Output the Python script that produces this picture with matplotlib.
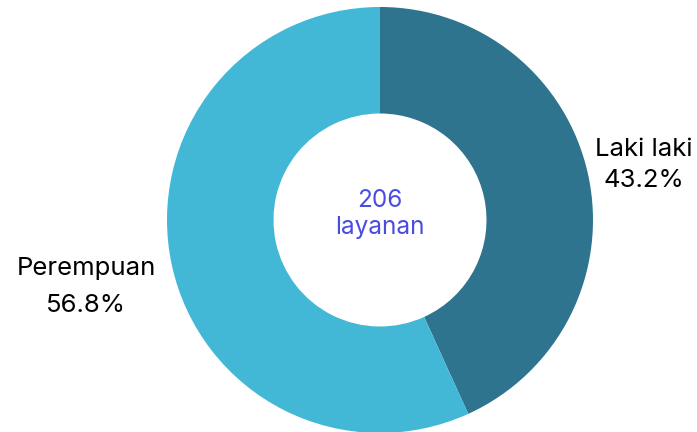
import matplotlib.pyplot as plt

labels = ["Laki laki", "Perempuan"]
shares = [43.2, 56.8]
colors = ["#2E748F", "#42B8D6"]
total_label = "206"
unit_label = "layanan"

plt.rcParams["font.family"] = ["Inter", "DejaVu Sans"]

fig = plt.figure(figsize=(6.97, 4.32), dpi=100)
# donut centred at about (380, 220) px, radius ~213 px
ax = fig.add_axes([167 / 697, (212 - 213) / 432, 426 / 697, 426 / 432])
ax.pie(shares, colors=colors, startangle=90, counterclock=False,
       radius=1.0, wedgeprops=dict(width=0.5, edgecolor="none"))
ax.set_xlim(-1, 1)
ax.set_ylim(-1, 1)
ax.set_aspect("equal")
ax.axis("off")

ax.text(0, 0.09, total_label, ha="center", va="center", fontsize=17.5, color="#4A4CE0")
ax.text(0, -0.035, unit_label, ha="center", va="center", fontsize=17.5, color="#4A4CE0")

# outside labels
fig.text(644 / 697, 1 - 150 / 432, labels[0], ha="center", va="center", fontsize=18.5)
fig.text(644 / 697, 1 - 180 / 432, f"{shares[0]}%", ha="center", va="center", fontsize=18.5)
fig.text(86 / 697, 1 - 268 / 432, labels[1], ha="center", va="center", fontsize=18.5)
fig.text(86 / 697, 1 - 305 / 432, f"{shares[1]}%", ha="center", va="center", fontsize=18.5)

fig.savefig("out.png", dpi=100)
